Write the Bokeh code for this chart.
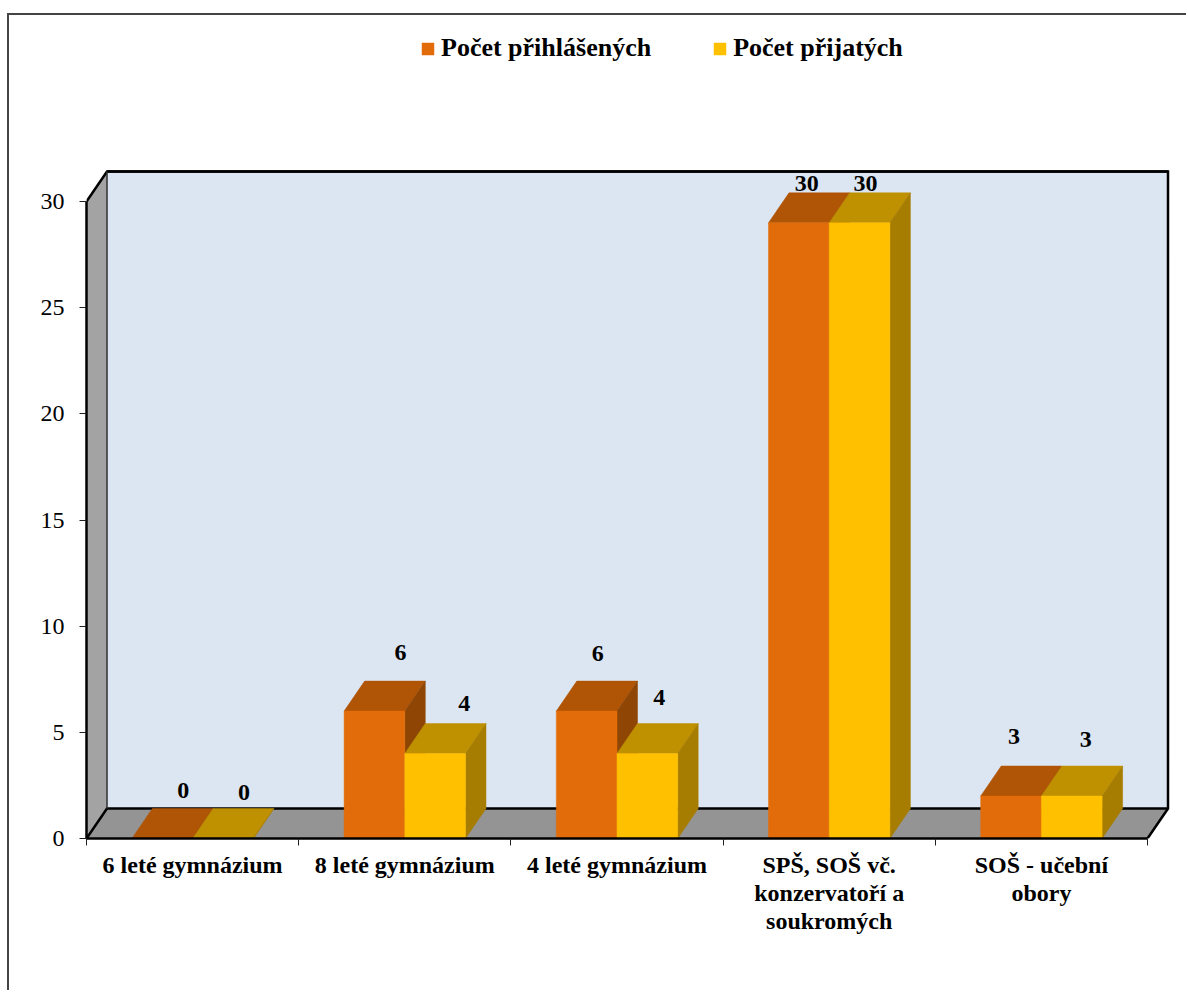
from bokeh.plotting import figure
from bokeh.models import (ColumnDataSource, FixedTicker, Legend, LegendItem, Range1d, LinearAxis)
from bokeh.core.properties import value
from bokeh.embed import file_html
from bokeh.resources import INLINE

categories = ["6 leté gymnázium", "8 leté gymnázium", "4 leté gymnázium",
              "SPŠ, SOŠ vč.\nkonzervatoří a\nsoukromých", "SOŠ - učební\nobory"]
series_names = ["Počet přihlášených", "Počet přijatých"]
applied_drawn = [0, 6, 6, 29, 2]
accepted_drawn = [0, 4, 4, 29, 2]
applied_labels = ["0", "6", "6", "30", "3"]
accepted_labels = ["0", "4", "4", "30", "3"]
y_ticks = [0, 5, 10, 15, 20, 25, 30]

# hand-moved data label offsets (px from the front bar's top centre)
applied_off_x = [21, 26, 11, 8, 3]
applied_off_y = [48, 59, 58, 39, 60]
accepted_off_x = [21, 29, 12, 6, 14]
accepted_off_y = [46, 50, 56, 39, 57]

PX_X = 212.2       # px per category
PX_Y = 21.23       # px per value unit
DEPTH_X = 20.5 / PX_X
DEPTH_Y = 30 / PX_Y
BAR_W = 60.7 / PX_X

W, H = 1179, 977
FL, FB = 77, 154
frame_w = W - FL
frame_h = H - FB

SERIF = "Liberation Serif"
p = figure(width=W, height=H, output_backend="svg", toolbar_location=None,
           x_axis_type=None, y_axis_type=None,
           x_range=Range1d(0, frame_w / PX_X), y_range=Range1d(0, frame_h / PX_Y),
           min_border_left=FL, min_border_bottom=FB, min_border_top=0, min_border_right=0,
           outline_line_color=None, background_fill_color="white", border_fill_color="white")
p.grid.visible = False
p.styles = {"border-left": "2px solid #444444", "border-top": "2px solid #444444",
            "margin-top": "13px", "margin-left": "7px"}

n = len(categories)
top_v = max(y_ticks)

# walls
p.patch([DEPTH_X, n + DEPTH_X, n + DEPTH_X, DEPTH_X], [DEPTH_Y, DEPTH_Y, top_v + DEPTH_Y, top_v + DEPTH_Y],
        fill_color="#DCE6F2", line_color=None)
p.patch([0, n, n + DEPTH_X, DEPTH_X], [0, 0, DEPTH_Y, DEPTH_Y], fill_color="#949494", line_color=None)
p.patch([0, DEPTH_X, DEPTH_X, 0], [0, DEPTH_Y, top_v + DEPTH_Y, top_v], fill_color="#A3A3A3", line_color=None)
# edges
p.multi_line([[DEPTH_X, n + DEPTH_X, n + DEPTH_X, n],
              [0, DEPTH_X, n + DEPTH_X],
              [0, DEPTH_X, n + DEPTH_X]],
             [[top_v + DEPTH_Y, top_v + DEPTH_Y, DEPTH_Y, 0],
              [top_v, top_v + DEPTH_Y, top_v + DEPTH_Y],
              [0, DEPTH_Y, DEPTH_Y]],
             line_color="black", line_width=2.5, line_join="miter")
p.line([DEPTH_X, DEPTH_X], [DEPTH_Y, top_v + DEPTH_Y], line_color="#303030", line_width=1.5)


def draw_bars(vals, offset, front, top, side):
    left = [i + 0.5 + offset - BAR_W / 2 for i in range(n)]
    right = [l + BAR_W for l in left]
    p.patches([[l, r, r + DEPTH_X, l + DEPTH_X] for l, r in zip(left, right)],
              [[v, v, v + DEPTH_Y, v + DEPTH_Y] for v in vals],
              fill_color=top, line_color=top, line_width=0.5)
    p.patches([[r, r + DEPTH_X, r + DEPTH_X, r] for r in right],
              [[0, DEPTH_Y, v + DEPTH_Y, v] for v in vals],
              fill_color=side, line_color=side, line_width=0.5)
    return p.quad(left=left, right=right, bottom=[0] * n, top=vals,
                  fill_color=front, line_color=front, line_width=0.5)


r_applied = draw_bars(applied_drawn, -BAR_W / 2, "#E36C0A", "#B05405", "#8F4604")
r_accepted = draw_bars(accepted_drawn, BAR_W / 2, "#FFC000", "#BF9000", "#A67D00")


def draw_labels(labels, vals, offset, off_x, off_y):
    src = ColumnDataSource(dict(
        x=[i + 0.5 + offset for i in range(n)], y=vals, t=labels,
        xo=off_x, yo=[-o for o in off_y]))
    p.text("x", "y", text="t", source=src, x_offset="xo", y_offset="yo",
           text_font=value(SERIF), text_font_style="bold", text_font_size="24px",
           text_color="black", text_align="center", text_baseline="middle")


draw_labels(applied_labels, applied_drawn, -BAR_W / 2, applied_off_x, applied_off_y)
draw_labels(accepted_labels, accepted_drawn, BAR_W / 2, accepted_off_x, accepted_off_y)

# axes
yax = LinearAxis(ticker=FixedTicker(ticks=y_ticks), bounds=(0, top_v))
yax.axis_line_color = "black"
yax.axis_line_width = 2.5
yax.major_tick_line_color = "#202020"
yax.major_tick_in = 0
yax.major_tick_out = 7
yax.minor_tick_out = 0
yax.major_label_standoff = 15
yax.major_label_text_font = SERIF
yax.major_label_text_font_size = "24px"
yax.major_label_text_color = "black"
p.add_layout(yax, "left")

centers = [i + 0.5 for i in range(n)]
xax = LinearAxis(ticker=FixedTicker(ticks=centers, minor_ticks=list(range(n + 1))), bounds=(0, n))
xax.major_label_overrides = {c: t for c, t in zip(centers, categories)}
xax.axis_line_color = "black"
xax.axis_line_width = 2.5
xax.major_tick_in = 0
xax.major_tick_out = 0
xax.minor_tick_in = 0
xax.minor_tick_out = 7
xax.minor_tick_line_color = "#202020"
xax.major_label_standoff = 6
xax.major_label_orientation = "horizontal"
xax.major_label_text_font = SERIF
xax.major_label_text_font_style = "bold"
xax.major_label_text_font_size = "24px"
xax.major_label_text_line_height = 1.09
xax.major_label_text_color = "black"
p.add_layout(xax, "below")

legend = Legend(items=[LegendItem(label=series_names[0], renderers=[r_applied]),
                       LegendItem(label=series_names[1], renderers=[r_accepted])],
                orientation="horizontal", location=(334, frame_h - 48),
                glyph_width=15, glyph_height=15, label_standoff=6, spacing=61,
                padding=0, margin=0, border_line_color=None, background_fill_alpha=0,
                label_text_font=SERIF, label_text_font_style="bold",
                label_text_font_size="26px", label_text_color="black")
p.add_layout(legend, "center")

open("out.html", "w").write(file_html(p, INLINE))
